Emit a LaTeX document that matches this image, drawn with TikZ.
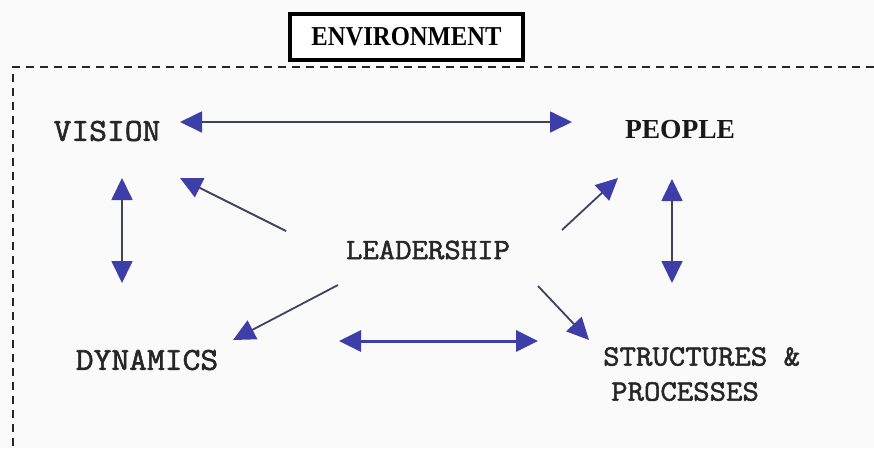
\documentclass[tikz,border=0pt]{standalone}
\usepackage{fontspec}
\setmainfont{Liberation Serif}
\newfontfamily\courfont[FakeBold=1.8,FakeStretch=1.08]{Latin Modern Mono}
\usetikzlibrary{arrows.meta}
\definecolor{bg}{RGB}{250,250,250}
\definecolor{arrowblue}{RGB}{62,62,168}
\definecolor{linegray}{RGB}{64,64,100}
\tikzset{
  lbl/.style={font=\courfont\fontsize{29.5}{35}\selectfont, inner sep=0pt, text=black!85},
  lblbig/.style={font=\courfont\fontsize{32}{38}\selectfont, inner sep=0pt, text=black!85},
  serifl/.style={font=\rmfamily\bfseries\fontsize{27.5}{33}\selectfont, inner sep=0pt, text=black!90},
  bluetip/.tip={Triangle[length=22pt,width=21pt,fill=arrowblue,color=arrowblue]},
  conn/.style={draw=linegray, line width=1.8pt},
  biarrow/.style={conn, {bluetip}-{bluetip}},
  uniarrow/.style={conn, -{bluetip}},
}
\begin{document}
\begin{tikzpicture}[x=1pt,y=-1pt]
\fill[bg] (0,0) rectangle (874,448);
\useasboundingbox (0,0) rectangle (874,448);
% environment frame (top and left edges visible)
\coordinate (frTR) at (874,67);
\coordinate (frTL) at (13,67);
\coordinate (frBL) at (13,448);
\draw[black!85, line width=2pt, dash pattern=on 8pt off 6pt] (frTR) -- (frTL) -- (frBL);
% ENVIRONMENT label box
\node[draw=black, line width=4pt, fill=white, minimum width=233pt, minimum height=46pt, inner sep=0pt] (env) at (406.5,37)
  {\rmfamily\bfseries\fontsize{22}{26}\selectfont\scalebox{1.12}[1.24]{ENVIRONMENT}};
% labels
\node[lblbig] (vision) at (107,131) {VISION};
\node[serifl] (people) at (680,130) {PEOPLE};
\node[lbl] (lead) at (428,250) {LEADERSHIP};
\node[lblbig] (dyn) at (147,360) {DYNAMICS};
\node[lbl, align=left, anchor=north west, font=\courfont\fontsize{29.5}{35}\selectfont] (struct) at (603,347) {STRUCTURES \&\\\hspace*{8pt}PROCESSES};
% connector end points
\coordinate (vpL) at (180,122);
\coordinate (vpR) at (572,122);
\coordinate (vdT) at (122,178);
\coordinate (vdB) at (122,283);
\coordinate (psT) at (672,179);
\coordinate (psB) at (672,283);
\coordinate (lvS) at (286,231);
\coordinate (lvE) at (180,178);
\coordinate (lpS) at (562,230);
\coordinate (lpE) at (618,178);
\coordinate (ldS) at (338,285);
\coordinate (ldE) at (233,340);
\coordinate (lsS) at (538,286);
\coordinate (lsE) at (589,340);
\coordinate (dsL) at (339,341);
\coordinate (dsR) at (538,341);
% connectors
\draw[biarrow] (vpL) -- (vpR);
\draw[biarrow] (vdT) -- (vdB);
\draw[biarrow] (psT) -- (psB);
\draw[uniarrow] (lvS) -- (lvE);
\draw[uniarrow] (lpS) -- (lpE);
\draw[uniarrow] (ldS) -- (ldE);
\draw[uniarrow] (lsS) -- (lsE);
\draw[biarrow, draw=arrowblue, line width=3pt] (dsL) -- (dsR);
\end{tikzpicture}
\end{document}
